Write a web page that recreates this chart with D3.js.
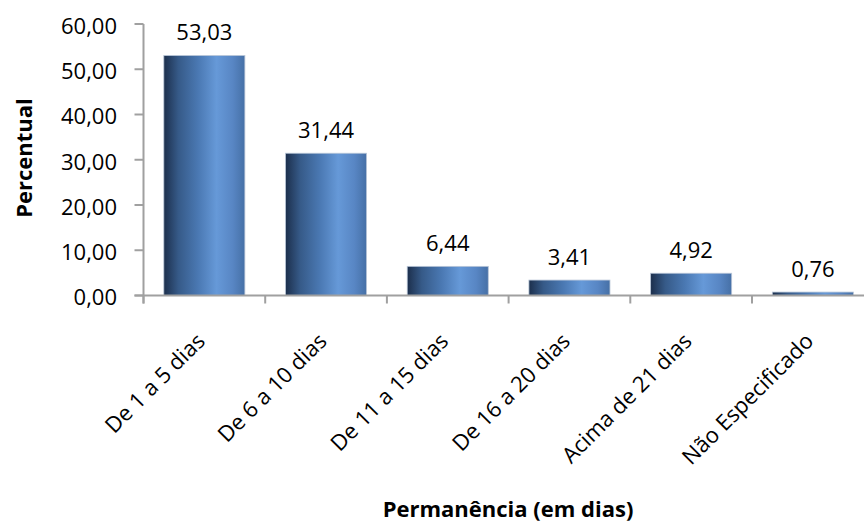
<!DOCTYPE html>
<html>
<head>
<meta charset="utf-8">
<script src="https://cdn.jsdelivr.net/npm/d3@7"></script>
<style>
  body { margin: 0; background: #fff; }
  text { font-family: "Open Sans", sans-serif; fill: #000; }
</style>
</head>
<body>
<svg id="chart"></svg>
<script>
const categories = ["De 1 a 5 dias", "De 6 a 10 dias", "De 11 a 15 dias", "De 16 a 20 dias", "Acima de 21 dias", "Não Especificado"];
const values = [53.03, 31.44, 6.44, 3.41, 4.92, 0.76];
const yTicks = [0, 10, 20, 30, 40, 50, 60];
const xTitle = "Permanência (em dias)";
const yTitle = "Percentual";

const width = 864, height = 525;
const plotLeft = 143.5, plotBottom = 295.5, plotTop = 24;
const fmt = v => v.toFixed(2).replace(".", ",");

const svg = d3.select("#chart")
    .attr("width", width)
    .attr("height", height);

const x = d3.scaleBand()
    .domain(categories)
    .range([plotLeft, plotLeft + 6 * 121.7])
    .paddingInner(0.334)
    .paddingOuter(0.167);

const y = d3.scaleLinear()
    .domain([0, 60])
    .range([plotBottom, plotTop]);

// bar gradient (cylinder look)
const grad = svg.append("defs").append("linearGradient")
    .attr("id", "barGrad")
    .attr("x1", "0%").attr("x2", "100%").attr("y1", "0%").attr("y2", "0%");
[["0%", "#1c2f4c"], ["18%", "#365a88"], ["42%", "#4a78b2"], ["65%", "#6699d8"], ["85%", "#5886c4"], ["100%", "#4670a6"]]
    .forEach(s => grad.append("stop").attr("offset", s[0]).attr("stop-color", s[1]));

// bars
svg.selectAll(".bar")
    .data(values)
    .enter().append("rect")
    .attr("class", "bar")
    .attr("x", (d, i) => x(categories[i]))
    .attr("y", d => y(d))
    .attr("width", x.bandwidth())
    .attr("height", d => plotBottom - y(d))
    .attr("fill", "url(#barGrad)")
    .attr("stroke", "#b9c6d8")
    .attr("stroke-width", 0.8);

// y axis
const yAxis = svg.append("g").attr("class", "y-axis");
yAxis.append("line")
    .attr("x1", plotLeft).attr("x2", plotLeft)
    .attr("y1", y(60)).attr("y2", plotBottom + 8)
    .attr("stroke", "#a0a0a0").attr("stroke-width", 2);
yAxis.selectAll(".ytick")
    .data(yTicks)
    .enter().append("line")
    .attr("x1", plotLeft - 9).attr("x2", plotLeft)
    .attr("y1", d => y(d)).attr("y2", d => y(d))
    .attr("stroke", "#a0a0a0").attr("stroke-width", 2);
yAxis.selectAll(".ylabel")
    .data(yTicks)
    .enter().append("text")
    .attr("x", 117)
    .attr("y", d => y(d))
    .attr("dy", "0.45em")
    .attr("text-anchor", "end")
    .attr("font-size", "22px")
    .text(fmt);

// x axis
const xAxis = svg.append("g").attr("class", "x-axis");
xAxis.append("line")
    .attr("x1", plotLeft - 9).attr("x2", width)
    .attr("y1", plotBottom).attr("y2", plotBottom)
    .attr("stroke", "#a0a0a0").attr("stroke-width", 2);
const bounds = d3.range(categories.length + 1).map(i => plotLeft + i * x.step());
xAxis.selectAll(".xtick")
    .data(bounds)
    .enter().append("line")
    .attr("x1", d => d).attr("x2", d => d)
    .attr("y1", plotBottom).attr("y2", plotBottom + 8)
    .attr("stroke", "#a0a0a0").attr("stroke-width", 2);
xAxis.selectAll(".xlabel")
    .data(categories)
    .enter().append("text")
    .attr("text-anchor", "end")
    .attr("font-size", "22px")
    .attr("transform", d => `translate(${x(d) + x.bandwidth() / 2 + 2},${plotBottom + 47}) rotate(-45)`)
    .text(d => d);

// value labels
svg.selectAll(".label")
    .data(values)
    .enter().append("text")
    .attr("class", "label")
    .attr("x", (d, i) => x(categories[i]) + x.bandwidth() / 2)
    .attr("y", d => y(d) - 15.5)
    .attr("text-anchor", "middle")
    .attr("font-size", "22px")
    .text(fmt);

// axis titles
svg.append("text")
    .attr("x", 508).attr("y", 517)
    .attr("text-anchor", "middle")
    .attr("font-size", "22px")
    .attr("font-weight", "bold")
    .text(xTitle);

svg.append("text")
    .attr("transform", `translate(32,158) rotate(-90)`)
    .attr("text-anchor", "middle")
    .attr("font-size", "22px")
    .attr("font-weight", "bold")
    .text(yTitle);
</script>
</body>
</html>
